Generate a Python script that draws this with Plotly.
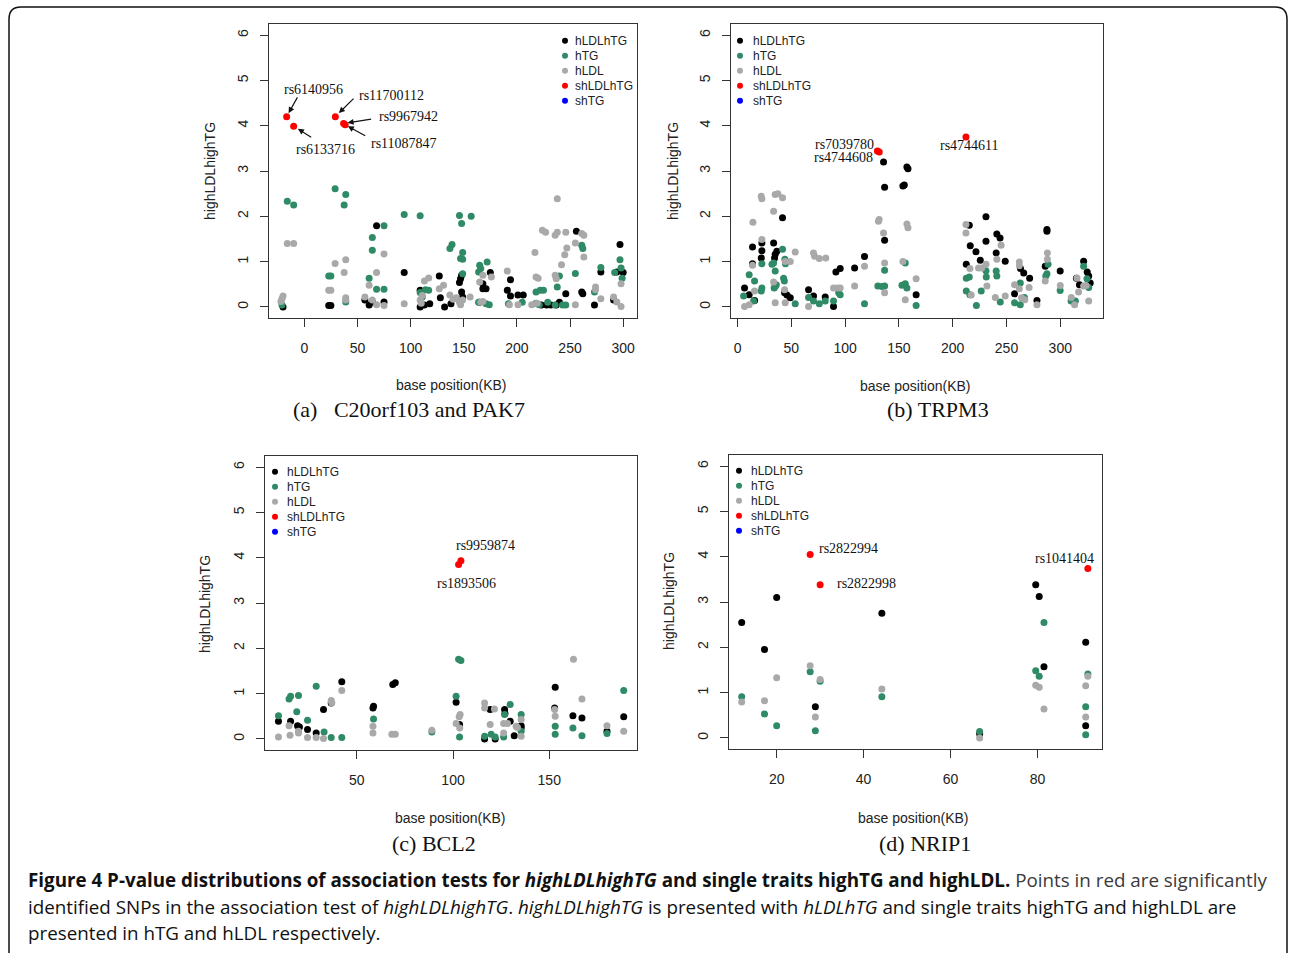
import plotly.graph_objects as go

W, H = 1290, 953

# ---------------- DATA ----------------
# Panel (a) C20orf103 and PAK7
a_hLDLhTG_x = [-20, 23, 25, 57, 61, 64, 68, 75, 94, 109, 109, 113, 118, 127, 128, 132, 138, 146, 147, 148, 148, 149,
               165, 168, 168, 171, 175, 191, 194, 194, 201, 206, 223, 228, 232, 237, 240, 246, 256, 261, 262, 273,
               279, 291, 294, 297, 300]
a_hLDLhTG_y = [0.0, 0.03, 0.03, 0.15, 0.04, 0.11, 1.79, 0.11, 0.76, 0.37, 0.0, 0.04, 0.07, 0.68, 0.2, 0.0, 0.07, 0.54,
               0.62, 0.7, 0.33, 0.22, 0.1, 0.51, 0.4, 0.4, 0.76, 0.37, 0.6, 0.24, 0.26, 0.26, 0.04, 0.04, 0.04, 0.04,
               0.1, 0.29, 1.67, 0.33, 0.29, 0.04, 0.77, 0.15, 0.77, 1.38, 0.76]
a_hTG_x = [-16, -10, -21, 29, 39, 37.5, 23, 25, 39, 64, 64, 75, 61, 68, 75, 94, 109, 109, 111, 117, 114, 137, 139, 146,
           148, 157, 149, 147, 149, 149, 165, 166, 172, 164, 171, 164, 174, 192, 205, 218, 222, 225, 218, 221, 229,
           236, 243, 246, 240, 238, 255, 261, 262, 279, 273, 292, 297, 298, 299]
a_hTG_y = [2.33, 2.25, 0.04, 2.61, 2.48, 2.25, 0.68, 0.68, 0.11, 1.53, 1.25, 1.79, 0.63, 0.39, 0.39, 2.04, 2.01, 0.32,
           0.22, 0.37, 0.38, 1.29, 1.38, 2.02, 1.84, 2.0, 1.2, 1.07, 1.05, 0.73, 0.92, 0.85, 0.99, 0.77, 0.07, 0.1,
           0.05, 0.07, 0.1, 0.33, 0.37, 0.37, 0.08, 0.05, 0.1, 0.04, 0.04, 0.04, 0.68, 0.44, 0.74, 1.36, 1.29, 0.87,
           0.33, 0.76, 1.04, 0.86, 0.63]
a_hLDL_x = [-16, -10, -20, -21, -22, 29, 39, 37.5, 23, 25, 39, 39, 75, 68, 61, 57, 64, 68, 75, 94, 109, 110, 111, 113,
            117, 127, 131, 137, 140, 143, 146, 147, 149, 156, 165, 168, 176, 166, 168, 191, 193, 201, 214, 219, 218,
            220, 236, 237, 217, 224, 227, 236, 238, 246, 238, 255, 261, 263, 247, 245, 242, 263, 255, 274, 279, 291,
            294, 298, 298, 274]
a_hLDL_y = [1.40, 1.40, 0.24, 0.18, 0.12, 0.96, 1.04, 0.76, 0.37, 0.37, 0.2, 0.15, 1.17, 0.76, 0.48, 0.22, 0.15, 0.05,
            0.03, 0.07, 0.15, 0.08, 0.25, 0.57, 0.64, 0.4, 0.48, 0.26, 0.17, 0.2, 0.1, 0.05, 0.15, 0.22, 0.55, 0.7,
            0.66, 0.1, 0.12, 0.79, 0.05, 0.05, 0.05, 0.08, 0.66, 0.63, 0.7, 0.62, 1.2, 1.69, 1.65, 1.58, 1.65, 1.65,
            2.39, 1.41, 1.62, 1.58, 1.3, 1.15, 0.93, 1.1, 0.05, 0.44, 0.18, 0.22, 0.11, 0.01, 0.51, 0.38]
a_shLDLhTG_x = [-16.6, -10.0, 29.2, 37.0, 38.5]
a_shLDLhTG_y = [4.20, 3.99, 4.20, 4.05, 4.02]
a_snp_ids = ["rs6140956", "rs6133716", "rs11700112", "rs9967942", "rs11087847"]

# Panel (b) TRPM3
b_hLDLhTG_x = [135.7, 136.7, 157.4, 158.4, 153.7, 155, 136.7, 41.8, 13.9, 22.6, 22.6, 22, 33.5, 36.5, 35, 34.4, 13.9,
               6.5, 10.8, 15.8, 43.7, 45.9, 49, 66, 70.6, 81.5, 89.2, 91.4, 95.4, 108.8, 118, 166, 230.9, 215.4, 241,
               244, 287.6, 287.6, 216.3, 221.6, 230.9, 225.6, 240.4, 248.8, 212.6, 266, 271.5, 263, 257.5, 278.3, 286,
               299.9, 321.7, 315, 317.8, 325, 326.4, 327.8]
b_hLDLhTG_y = [3.2, 2.64, 3.09, 3.05, 2.67, 2.69, 1.47, 1.97, 1.32, 1.41, 1.24, 1.08, 1.41, 1.23, 1.16, 1.08, 0.95,
               0.42, 0.27, 0.14, 0.31, 0.26, 0.2, 0.38, 0.24, 0.22, 0.01, 0.77, 0.85, 0.86, 1.11, 0.27, 1.99, 1.8, 1.61,
               1.52, 1.71, 1.67, 1.35, 1.22, 1.45, 1.03, 1.19, 1.01, 0.94, 0.75, 0.63, 0.85, 0.29, 0.14, 0.9, 0.79,
               1.01, 0.63, 0.49, 0.77, 0.68, 0.53]
b_hTG_x = [41.8, 32, 33.5, 22.6, 44, 44.5, 35, 42.8, 43.5, 10.8, 15.8, 22.6, 22, 34, 36, 35, 5.6, 14.9, 53.6, 66, 70.6,
           76, 81.5, 89.2, 94, 95.4, 118, 130.4, 134.2, 136.7, 136.7, 152.8, 155.9, 157.4, 155.9, 166, 212.6, 215.4,
           212.6, 216, 222, 226.5, 230.9, 231.2, 240.4, 241, 244.2, 257.5, 262.8, 262.8, 266.7, 287.6, 286.5, 288.6,
           299.9, 310, 314, 321.7, 324.8, 326.4]
b_hTG_y = [1.27, 0.94, 0.97, 0.95, 1.05, 0.95, 0.79, 0.63, 0.57, 0.71, 0.57, 0.42, 0.35, 0.42, 0.49, 0.45, 0.24, 0.13,
           0.07, 0.21, 0.13, 0.07, 0.13, 0.13, 0.31, 0.27, 0.07, 0.46, 0.45, 0.46, 0.81, 0.48, 0.51, 0.42, 0.97, 0.03,
           0.63, 0.66, 0.35, 0.27, 0.03, 0.35, 0.8, 0.66, 0.79, 0.68, 0.11, 0.09, 0.05, 0.53, 0.21, 0.73, 0.68, 0.94,
           0.36, 0.13, 0.13, 0.9, 0.62, 0.43]
b_hLDL_x = [22, 22.6, 35, 37.5, 41.8, 33.5, 14.3, 22.6, 13.9, 33.5, 44.3, 49, 53.6, 70.6, 71.6, 76, 82, 131, 131.6,
            135.7, 136.7, 136.7, 157.4, 158.4, 153.7, 155.9, 93, 95.4, 108.8, 118, 6.5, 10.8, 35, 43.7, 44.3, 166,
            66, 89.2, 15.8, 212.3, 212.3, 245, 241, 288, 288, 224, 227, 231, 216, 231.8, 239.6, 248.8, 261.9, 261.9,
            257.5, 261.9, 264, 267, 271, 278.3, 286, 300, 310.2, 313.3, 315.5, 317, 321.7, 324, 326.4, 217.2]
b_hLDL_y = [2.44, 2.39, 2.48, 2.5, 2.41, 2.11, 1.87, 1.49, 0.92, 0.55, 1.0, 1.0, 1.21, 1.19, 1.12, 1.07, 1.08, 1.89,
            1.93, 1.63, 0.97, 0.31, 1.83, 1.75, 1.0, 0.16, 0.42, 0.42, 0.46, 0.9, 0.01, 0.05, 0.09, 0.38, 0.09, 0.62,
            0.01, 0.42, 0.35, 1.82, 1.63, 1.36, 1.05, 1.19, 1.05, 0.86, 0.86, 0.94, 0.85, 0.46, 0.21, 0.24, 0.99,
            0.91, 0.49, 0.4, 0.2, 0.16, 0.43, 0.05, 0.57, 0.47, 0.21, 0.05, 0.64, 0.33, 0.46, 0.47, 0.13, 0.26]
b_shLDLhTG_x = [130.0, 131.7, 212.3]
b_shLDLhTG_y = [3.44, 3.42, 3.75]
b_snp_ids = ["rs7039780", "rs4744608", "rs4744611"]

# Panel (c) BCL2
c_hLDLhTG_x = [9.3, 15.6, 19.2, 20.2, 24.4, 28.9, 32.7, 36.7, 42.2, 58.4, 58.7, 68.7, 70, 101.6, 103.4, 116.4, 119.3,
               121.9, 126.8, 127, 129.7, 131.8, 135.4, 135.4, 152.8, 153.1, 162.3, 167, 180, 188.7]
c_hLDLhTG_y = [0.39, 0.39, 0.29, 0.26, 0.21, 0.13, 0.65, 0.79, 1.26, 0.68, 0.72, 1.2, 1.24, 0.81, 0.32, 0.0, 0.65, 0.0,
               0.65, 0.56, 0.39, 0.07, 0.29, 0.24, 0.68, 1.14, 0.51, 0.46, 0.17, 0.49]
c_hTG_x = [9.3, 14.8, 15.6, 19.7, 18.8, 28.9, 24.4, 33, 36.7, 42.2, 58.7, 89, 102.9, 104.1, 101.6, 103.4, 116.4, 119.8,
           121.9, 126.3, 129.7, 126.8, 135.4, 135.4, 153.1, 153.1, 162.3, 167, 180, 188.7]
c_hTG_y = [0.51, 0.88, 0.94, 0.96, 0.6, 1.16, 0.41, 0.15, 0.03, 0.03, 0.44, 0.15, 1.76, 1.73, 0.94, 0.04, 0.06, 0.1,
           0.04, 0.04, 0.76, 0.54, 0.54, 0.17, 0.28, 0.1, 0.24, 0.07, 0.12, 1.07]
c_hLDL_x = [9.3, 15.3, 14.8, 19.7, 19.7, 24.4, 28.9, 32.7, 36.7, 37, 42.2, 58.4, 58.4, 68.2, 70, 89, 103.7, 103.2,
            101.6, 103.5, 116.4, 116.4, 121.5, 119.3, 126.3, 128.3, 132.8, 133.5, 135.4, 135.4, 126.3, 152.8, 153.1,
            162.6, 167, 180, 188.7]
c_hLDL_y = [0.04, 0.08, 0.29, 0.17, 0.13, 0.03, 0.03, 0.01, 0.85, 0.8, 1.07, 0.28, 0.13, 0.1, 0.1, 0.19, 0.54, 0.49,
            0.34, 0.24, 0.79, 0.68, 0.66, 0.32, 0.34, 0.34, 0.28, 0.25, 0.43, 0.06, 0.13, 0.65, 0.5, 1.76, 0.88, 0.29,
            0.17]
c_shLDLhTG_x = [104.1, 102.9]
c_shLDLhTG_y = [3.93, 3.85]
c_snp_ids = ["rs9959874", "rs1893506"]

# Panel (d) NRIP1
d_hLDLhTG_x = [11.95, 17.2, 20, 28.9, 44.2, 66.7, 79.6, 80.4, 81.5, 91.1, 91.1]
d_hLDLhTG_y = [2.55, 1.95, 3.1, 0.69, 2.75, 0.09, 3.38, 3.12, 1.57, 2.11, 0.27]
d_hTG_x = [11.95, 17.2, 20, 27.7, 30, 28.9, 44.2, 66.7, 79.6, 80.4, 81.5, 91.6, 91.1, 91.1]
d_hTG_y = [0.91, 0.53, 0.27, 1.46, 1.25, 0.16, 0.91, 0.14, 1.48, 1.36, 2.55, 1.41, 0.69, 0.07]
d_hLDL_x = [11.95, 17.2, 20, 27.7, 30, 28.9, 44.2, 66.7, 79.6, 80.4, 81.5, 91.6, 91.1, 91.1]
d_hLDL_y = [0.79, 0.82, 1.33, 1.59, 1.29, 0.46, 1.08, 0.0, 1.16, 1.12, 0.64, 1.36, 1.15, 0.46]
d_shLDLhTG_x = [27.7, 30.0, 91.6]
d_shLDLhTG_y = [4.05, 3.38, 3.74]
d_snp_ids = ["rs2822994", "rs2822998", "rs1041404"]

series_names = ["hLDLhTG", "hTG", "hLDL", "shLDLhTG", "shTG"]
panel_titles = ["(a)&nbsp;&nbsp;&nbsp;C20orf103 and PAK7", "(b) TRPM3", "(c) BCL2", "(d) NRIP1"]
x_tick_values = [[0, 50, 100, 150, 200, 250, 300], [0, 50, 100, 150, 200, 250, 300], [50, 100, 150], [20, 40, 60, 80]]
y_tick_values = [0, 1, 2, 3, 4, 5, 6]
x_title = "base position(KB)"
y_title = "highLDLhighTG"
caption_lines = [
    "<b>Figure 4 P-value distributions of association tests for <i>highLDLhighTG</i> and single traits highTG and highLDL.</b>"
    "<span style='color:#3a3a3a'> Points in red are significantly</span>",
    "identified SNPs in the association test of <i>highLDLhighTG</i>. <i>highLDLhighTG</i> is presented with "
    "<i>hLDLhTG</i> and single traits highTG and highLDL are",
    "presented in hTG and hLDL respectively.",
]

# ---------------- STYLE / LAYOUT ----------------
colors = {"hLDLhTG": "#000000", "hTG": "#2f8a66", "hLDL": "#a9a9a9", "shLDLhTG": "#ff0000", "shTG": "#0000ff"}
SANS = "Liberation Sans, Arial, sans-serif"
SERIF = "Liberation Serif, Times New Roman, serif"


def px(x):
    return x / W


def py(y):
    return 1 - y / H


panels = [
    dict(series=[(a_hLDLhTG_x, a_hLDLhTG_y), (a_hTG_x, a_hTG_y), (a_hLDL_x, a_hLDL_y), (a_shLDLhTG_x, a_shLDLhTG_y)],
         ids=a_snp_ids, box=(269, 637, 24, 318), xr=[-33.2, 313], leg=(565, 573, 40.7),
         ytitle=(210, 171), xtitle=(451, 385), title=(409, 410)),
    dict(series=[(b_hLDLhTG_x, b_hLDLhTG_y), (b_hTG_x, b_hTG_y), (b_hLDL_x, b_hLDL_y), (b_shLDLhTG_x, b_shLDLhTG_y)],
         ids=b_snp_ids, box=(731, 1103, 24, 318), xr=[-6.1, 339.7], leg=(740, 751.5, 40.7),
         ytitle=(673, 171), xtitle=(915, 386), title=(938, 410)),
    dict(series=[(c_hLDLhTG_x, c_hLDLhTG_y), (c_hTG_x, c_hTG_y), (c_hLDL_x, c_hLDL_y), (c_shLDLhTG_x, c_shLDLhTG_y)],
         ids=c_snp_ids, box=(265, 637, 456, 750), xr=[2.3, 195.6], leg=(275, 285, 471.7),
         ytitle=(205, 604), xtitle=(450, 818), title=(434, 843)),
    dict(series=[(d_hLDLhTG_x, d_hLDLhTG_y), (d_hTG_x, d_hTG_y), (d_hLDL_x, d_hLDL_y), (d_shLDLhTG_x, d_shLDLhTG_y)],
         ids=d_snp_ids, box=(729, 1102, 455, 749), xr=[9.03, 94.85], leg=(739, 749.3, 470.7),
         ytitle=(669, 601), xtitle=(914, 818), title=(925, 843)),
]

# label placement relative to its SNP point: (xanchor, xshift, yshift)
label_place = {
    "rs6140956": ("center", 27, 26.8), "rs6133716": ("center", 31.6, -23), "rs11700112": ("center", 56.4, 20.8),
    "rs9967942": ("center", 64.4, 6.5), "rs11087847": ("center", 58.8, -18.4),
    "rs7039780": ("right", -1, 6.5), "rs4744608": ("right", -4, -5.5), "rs4744611": ("center", 3.1, -8.6),
    "rs9959874": ("center", 24.7, 15.2), "rs1893506": ("center", 8.3, -19.2),
    "rs2822994": ("left", 6.5, 6.1), "rs2822998": ("left", 14.8, 1.2), "rs1041404": ("center", -23.2, 10.2),
}
# arrows in panel (a): (ax, ay, standoff) in pixels
arrow_place = {
    "rs6140956": (11.6, -20.8, 4), "rs6133716": (19, 12, 5), "rs11700112": (19.7, -19.5, 5),
    "rs9967942": (29, -4.5, 4), "rs11087847": (21.5, 11.8, 3),
}

fig = go.Figure()
layout = dict(width=W, height=H, margin=dict(l=0, r=0, t=0, b=0), paper_bgcolor="white",
              plot_bgcolor="white", showlegend=False)
annotations = []
shapes = []


def paper_text(x, y, text, font, xanchor="center", **kw):
    return dict(x=px(x), y=py(y), xref="paper", yref="paper", text=text, showarrow=False,
                xanchor=xanchor, yanchor="middle", font=font, **kw)


for i, p in enumerate(panels):
    sfx = "" if i == 0 else str(i + 1)
    xa, ya = "x" + sfx, "y" + sfx
    for name, (xs, ys) in zip(series_names, p["series"]):
        fig.add_trace(go.Scatter(x=xs, y=ys, mode="markers", xaxis=xa, yaxis=ya, name=name,
                                 marker=dict(color=colors[name], size=7, line=dict(width=0)), hoverinfo="x+y"))
    l, r, t, b = p["box"]
    axis_common = dict(showgrid=False, zeroline=False, showline=True, mirror=True, linecolor="#333",
                       linewidth=1, ticks="outside", ticklen=8, tickcolor="#333", tickwidth=1,
                       tickfont=dict(family=SANS, size=14, color="#222"))
    layout["xaxis" + sfx] = dict(axis_common, domain=[px(l), px(r)], anchor=ya, range=p["xr"],
                                 tickmode="array", tickvals=x_tick_values[i], ticklabelstandoff=9)
    layout["yaxis" + sfx] = dict(axis_common, domain=[py(b), py(t)], anchor=xa, range=[-0.245, 6.245],
                                 tickmode="array", tickvals=y_tick_values, tickangle=-90, ticklabelstandoff=6)
    sans14 = dict(family=SANS, size=14, color="#222")
    annotations.append(paper_text(p["xtitle"][0], p["xtitle"][1], x_title, sans14))
    annotations.append(paper_text(p["ytitle"][0], p["ytitle"][1], y_title, sans14, textangle=-90))
    annotations.append(paper_text(p["title"][0], p["title"][1], panel_titles[i],
                                  dict(family=SERIF, size=22, color="#111")))
    # legend (no box, R style)
    mx, tx, ly0 = p["leg"]
    for k, name in enumerate(series_names):
        cy = ly0 + 15 * k
        shapes.append(dict(type="circle", xref="paper", yref="paper", x0=px(mx - 3), x1=px(mx + 3),
                           y0=py(cy + 3), y1=py(cy - 3), fillcolor=colors[name], line=dict(width=0)))
        annotations.append(paper_text(tx, cy, name, dict(family=SANS, size=12, color="#222"), xanchor="left"))
    # SNP labels
    rx, ry = p["series"][3]
    for sid, X, Y in zip(p["ids"], rx, ry):
        anc, xs_, ys_ = label_place[sid]
        annotations.append(dict(x=X, y=Y, xref=xa, yref=ya, text=sid, showarrow=False, xanchor=anc,
                                yanchor="middle", xshift=xs_, yshift=ys_,
                                font=dict(family=SERIF, size=14, color="#111")))
        if sid in arrow_place:
            ax_, ay_, so = arrow_place[sid]
            annotations.append(dict(x=X, y=Y, xref=xa, yref=ya, text="", showarrow=True, ax=ax_, ay=ay_,
                                    arrowhead=2, arrowsize=1, arrowwidth=1.2, arrowcolor="#111", standoff=so))

# caption
for k, line in enumerate(caption_lines):
    annotations.append(paper_text(26, 880 + 26.5 * k, line, dict(family="Open Sans", size=18.8, color="#111"),
                                  xanchor="left"))

# outer rounded frame
fx0, fy0, fx1, fy1, rr = 9, 7, 1287, 960, 12
path = (f"M {px(fx0)},{py(fy1)} L {px(fx0)},{py(fy0 + rr)} Q {px(fx0)},{py(fy0)} {px(fx0 + rr)},{py(fy0)} "
        f"L {px(fx1 - rr)},{py(fy0)} Q {px(fx1)},{py(fy0)} {px(fx1)},{py(fy0 + rr)} L {px(fx1)},{py(fy1)}")
shapes.append(dict(type="path", xref="paper", yref="paper", path=path, line=dict(color="#111", width=1.5)))

layout["annotations"] = annotations
layout["shapes"] = shapes
fig.update_layout(**layout)
fig.write_html("out.html", config={"displayModeBar": False},
               post_script="document.body.style.margin='0px';")
